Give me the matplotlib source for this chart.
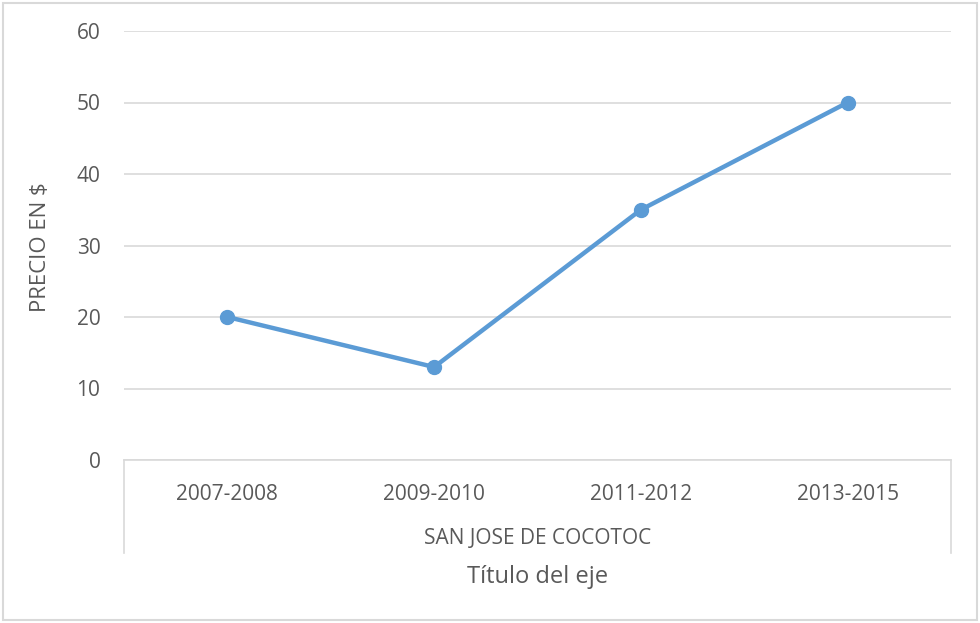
import matplotlib.pyplot as plt
from matplotlib.lines import Line2D
from matplotlib.patches import Rectangle

# data
periodos = ['2007-2008', '2009-2010', '2011-2012', '2013-2015']
precio = [20, 13, 35, 50]
grupo = 'SAN JOSE DE COCOTOC'
y_ticks = [0, 10, 20, 30, 40, 50, 60]

plt.rcParams['font.family'] = ['Open Sans', 'DejaVu Sans']
txt = '#595959'
grid_c = '#d9d9d9'

W, H = 980, 623
fig = plt.figure(figsize=(W / 100, H / 100), dpi=100)
ax = fig.add_axes([124 / W, 1 - 460 / H, (951 - 124) / W, (460 - 31) / H])

x = list(range(len(periodos)))
ax.plot(x, precio, color='#5b9bd5', lw=3.2, marker='o', ms=10,
        solid_capstyle='round', zorder=3)

ax.set_xlim(-0.5, len(periodos) - 0.5)
ax.set_ylim(0, 60)
ax.set_yticks(y_ticks)
ax.yaxis.grid(True, color=grid_c, lw=1.2)
ax.set_axisbelow(True)
for s in ax.spines.values():
    s.set_visible(False)
ax.tick_params(axis='y', length=0, pad=17, labelsize=15, labelcolor=txt)
ax.set_xticks(x)
ax.set_xticklabels(periodos)
ax.tick_params(axis='x', length=0, pad=17, labelsize=15, labelcolor=txt)

# y axis title
fig.text(40 / W, 1 - 247 / H, 'PRECIO EN $', rotation=90, ha='center',
         va='center', fontsize=16, color=txt)

# multi-level category box
depth = -(553 - 460) / (460 - 31)
for xs, ys in [([0, 1], [0, 0]), ([0, 0], [0, depth]), ([1, 1], [0, depth])]:
    ax.add_line(Line2D(xs, ys, transform=ax.transAxes, color=grid_c, lw=1.2,
                       clip_on=False))
ax.text(0.5, -(538 - 460) / (460 - 31), grupo, transform=ax.transAxes,
        ha='center', va='center', fontsize=15, color=txt)
ax.text(0.5, -(577 - 460) / (460 - 31), 'Título del eje', transform=ax.transAxes,
        ha='center', va='center', fontsize=17, color=txt)

# outer chart border
fig.patches.append(Rectangle((3 / W, 3 / H), 1 - 6 / W, 1 - 6 / H,
                             transform=fig.transFigure, fill=False,
                             edgecolor='#d9d9d9', lw=1.5))

fig.savefig('out.png', dpi=100)
